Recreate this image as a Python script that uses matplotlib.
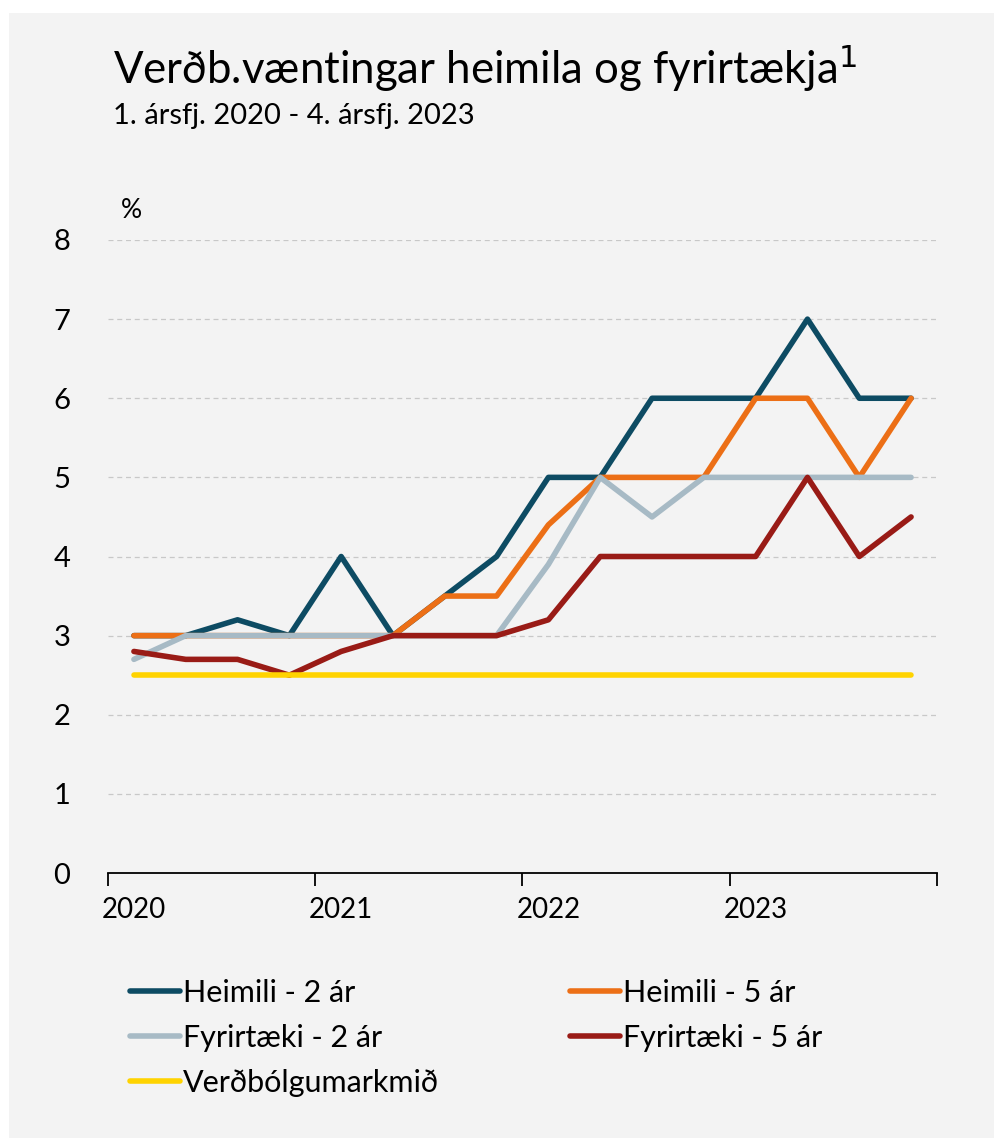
import matplotlib
matplotlib.use("Agg")
import matplotlib.pyplot as plt
from matplotlib.patches import Rectangle
import numpy as np

plt.rcParams['font.family'] = ['Lato', 'DejaVu Sans']

quarters = list(range(16))
year_labels = ["2020", "2021", "2022", "2023"]
heimili_2 = [3.0, 3.0, 3.2, 3.0, 4.0, 3.0, 3.5, 4.0, 5.0, 5.0, 6.0, 6.0, 6.0, 7.0, 6.0, 6.0]
heimili_5 = [3.0, 3.0, 3.0, 3.0, 3.0, 3.0, 3.5, 3.5, 4.4, 5.0, 5.0, 5.0, 6.0, 6.0, 5.0, 6.0]
fyrirtaeki_2 = [2.7, 3.0, 3.0, 3.0, 3.0, 3.0, 3.0, 3.0, 3.9, 5.0, 4.5, 5.0, 5.0, 5.0, 5.0, 5.0]
fyrirtaeki_5 = [2.8, 2.7, 2.7, 2.5, 2.8, 3.0, 3.0, 3.0, 3.2, 4.0, 4.0, 4.0, 4.0, 5.0, 4.0, 4.5]
markmid = [2.5] * 16

W, H = 995, 1138
fig = plt.figure(figsize=(W / 100, H / 100), dpi=100, facecolor="white")
fig.patches.append(Rectangle((9 / W, 0), 1 - 9 / W, 1 - 13 / H, transform=fig.transFigure,
                             facecolor="#f3f3f3", edgecolor="none", zorder=-10))

ax = fig.add_axes([108 / W, 1 - 873 / H, (937 - 108) / W, (873 - 240) / H])
ax.set_facecolor("none")

lw = 4.0
c_h2, c_h5, c_f2, c_f5, c_m = "#0d4b63", "#ec6f16", "#a7bac5", "#991b16", "#ffd300"
l_h2, = ax.plot(quarters, heimili_2, color=c_h2, lw=lw, solid_capstyle="round", zorder=3)
l_h5, = ax.plot(quarters, heimili_5, color=c_h5, lw=lw, solid_capstyle="round", zorder=4)
l_f2, = ax.plot(quarters, fyrirtaeki_2, color=c_f2, lw=lw, solid_capstyle="round", zorder=5)
l_f5, = ax.plot(quarters, fyrirtaeki_5, color=c_f5, lw=lw, solid_capstyle="round", zorder=6)
l_m, = ax.plot(quarters, markmid, color=c_m, lw=lw, solid_capstyle="round", zorder=7)

ax.set_xlim(-0.5, 15.5)
ax.set_ylim(0, 8)
ax.set_yticks(range(0, 9))
ax.tick_params(axis="y", length=0, labelsize=21, pad=27, colors="black")
ax.yaxis.grid(True, color="#c8c8c8", linestyle=(0, (4, 3)), linewidth=0.9)
ax.set_axisbelow(True)

ax.set_xticks([-0.5, 3.5, 7.5, 11.5, 15.5])
ax.set_xticklabels([])
ax.tick_params(axis="x", which="major", direction="out", length=9, width=1.3, color="black")
ax.set_xticks([0, 4, 8, 12], minor=True)
ax.set_xticklabels(year_labels, minor=True)
ax.tick_params(axis="x", which="minor", length=0, labelsize=20, pad=17)

for s in ["left", "right", "top"]:
    ax.spines[s].set_visible(False)
ax.spines["bottom"].set_linewidth(1.3)
ax.spines["bottom"].set_color("black")

fig.text(113 / W, 1 - 68 / H, "Verðb.væntingar heimila og fyrirtækja$^{1}$", fontsize=31.5,
         va="center", ha="left")
fig.text(113 / W, 1 - 116 / H, "1. ársfj. 2020 - 4. ársfj. 2023", fontsize=21,
         va="center", ha="left")
fig.text(121 / W, 1 - 210 / H, "%", fontsize=19, va="center", ha="left")

handles = [l_h2, l_f2, l_m, l_h5, l_f5]
labels = ["Heimili - 2 ár", "Fyrirtæki - 2 ár", "Verðbólgumarkmið", "Heimili - 5 ár", "Fyrirtæki - 5 ár"]
leg = fig.legend(handles, labels, ncol=2, loc="upper left",
                 bbox_to_anchor=(130 / W, 1 - 979 / H), frameon=False, fontsize=22,
                 handlelength=1.63, handletextpad=0.1, columnspacing=4.3, labelspacing=0.55,
                 borderpad=0, borderaxespad=0)

fig.savefig("out.png", dpi=100, facecolor=fig.get_facecolor())
